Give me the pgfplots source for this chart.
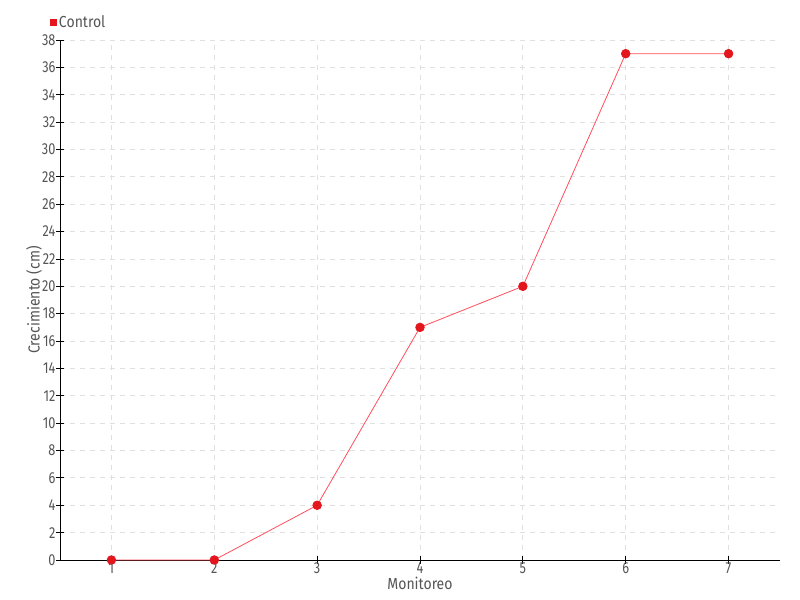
\documentclass[border=0pt]{standalone}
\usepackage{pgfplots}
\pgfplotsset{compat=1.18}
\usepackage{fontspec}
\setmainfont[FakeStretch=0.8]{Fira Sans}
\newfontfamily\labfont[FakeStretch=0.88]{Fira Sans}
\definecolor{txt}{HTML}{555555}
\definecolor{linec}{HTML}{FF4D5A}
\definecolor{markc}{HTML}{E3161E}
\definecolor{gridc}{HTML}{E0E0E0}
\begin{document}
\begin{tikzpicture}
\useasboundingbox (-60bp,-40bp) rectangle (740bp,560bp);
\begin{axis}[
  at={(0,0)}, anchor=south west,
  scale only axis, width=720bp, height=520bp,
  xmin=0.5, xmax=7.5, ymin=0, ymax=38,
  xtick={1,...,7}, ytick={0,2,...,38},
  axis x line*=bottom, axis y line*=left,
  axis line style={black, line width=0.9pt, -},
  tick align=center, major tick length=8bp,
  tick style={black, line width=0.8pt},
  grid=major, major grid style={gridc, line width=0.8pt, dash pattern=on 5bp off 5bp},
  /pgf/number format/assume math mode=true,
  ticklabel style={font=\fontsize{16}{18}\selectfont, text=txt},
  xticklabel style={yshift=5bp},
  yticklabel style={xshift=3bp},
  xlabel={Monitoreo}, ylabel={Crecimiento (cm)},
  label style={font=\labfont\fontsize{16}{18}\selectfont, text=txt},
  xlabel style={at={(axis description cs:0.5,-0.044)}, anchor=center},
  ylabel style={at={(axis description cs:-0.036,0.5)}, anchor=center},
  legend style={draw=none, fill=none, at={(axis description cs:0,1)}, anchor=west, xshift=-10bp, yshift=18bp, font=\labfont\fontsize{16}{18}\selectfont, text=txt, inner sep=0pt},
  legend image code/.code={\fill[markc] (-0.5bp,-3bp) rectangle (5.5bp,3bp);},
  legend cell align=left,
  clip=false,
]
\addplot[color=linec, line width=0.8pt, mark=*, mark size=4.3bp, mark options={fill=markc, draw=markc}]
  coordinates {(1,0) (2,0) (3,4) (4,17) (5,20) (6,37) (7,37)};
\addlegendentry{Control}
\end{axis}
\end{tikzpicture}
\end{document}
